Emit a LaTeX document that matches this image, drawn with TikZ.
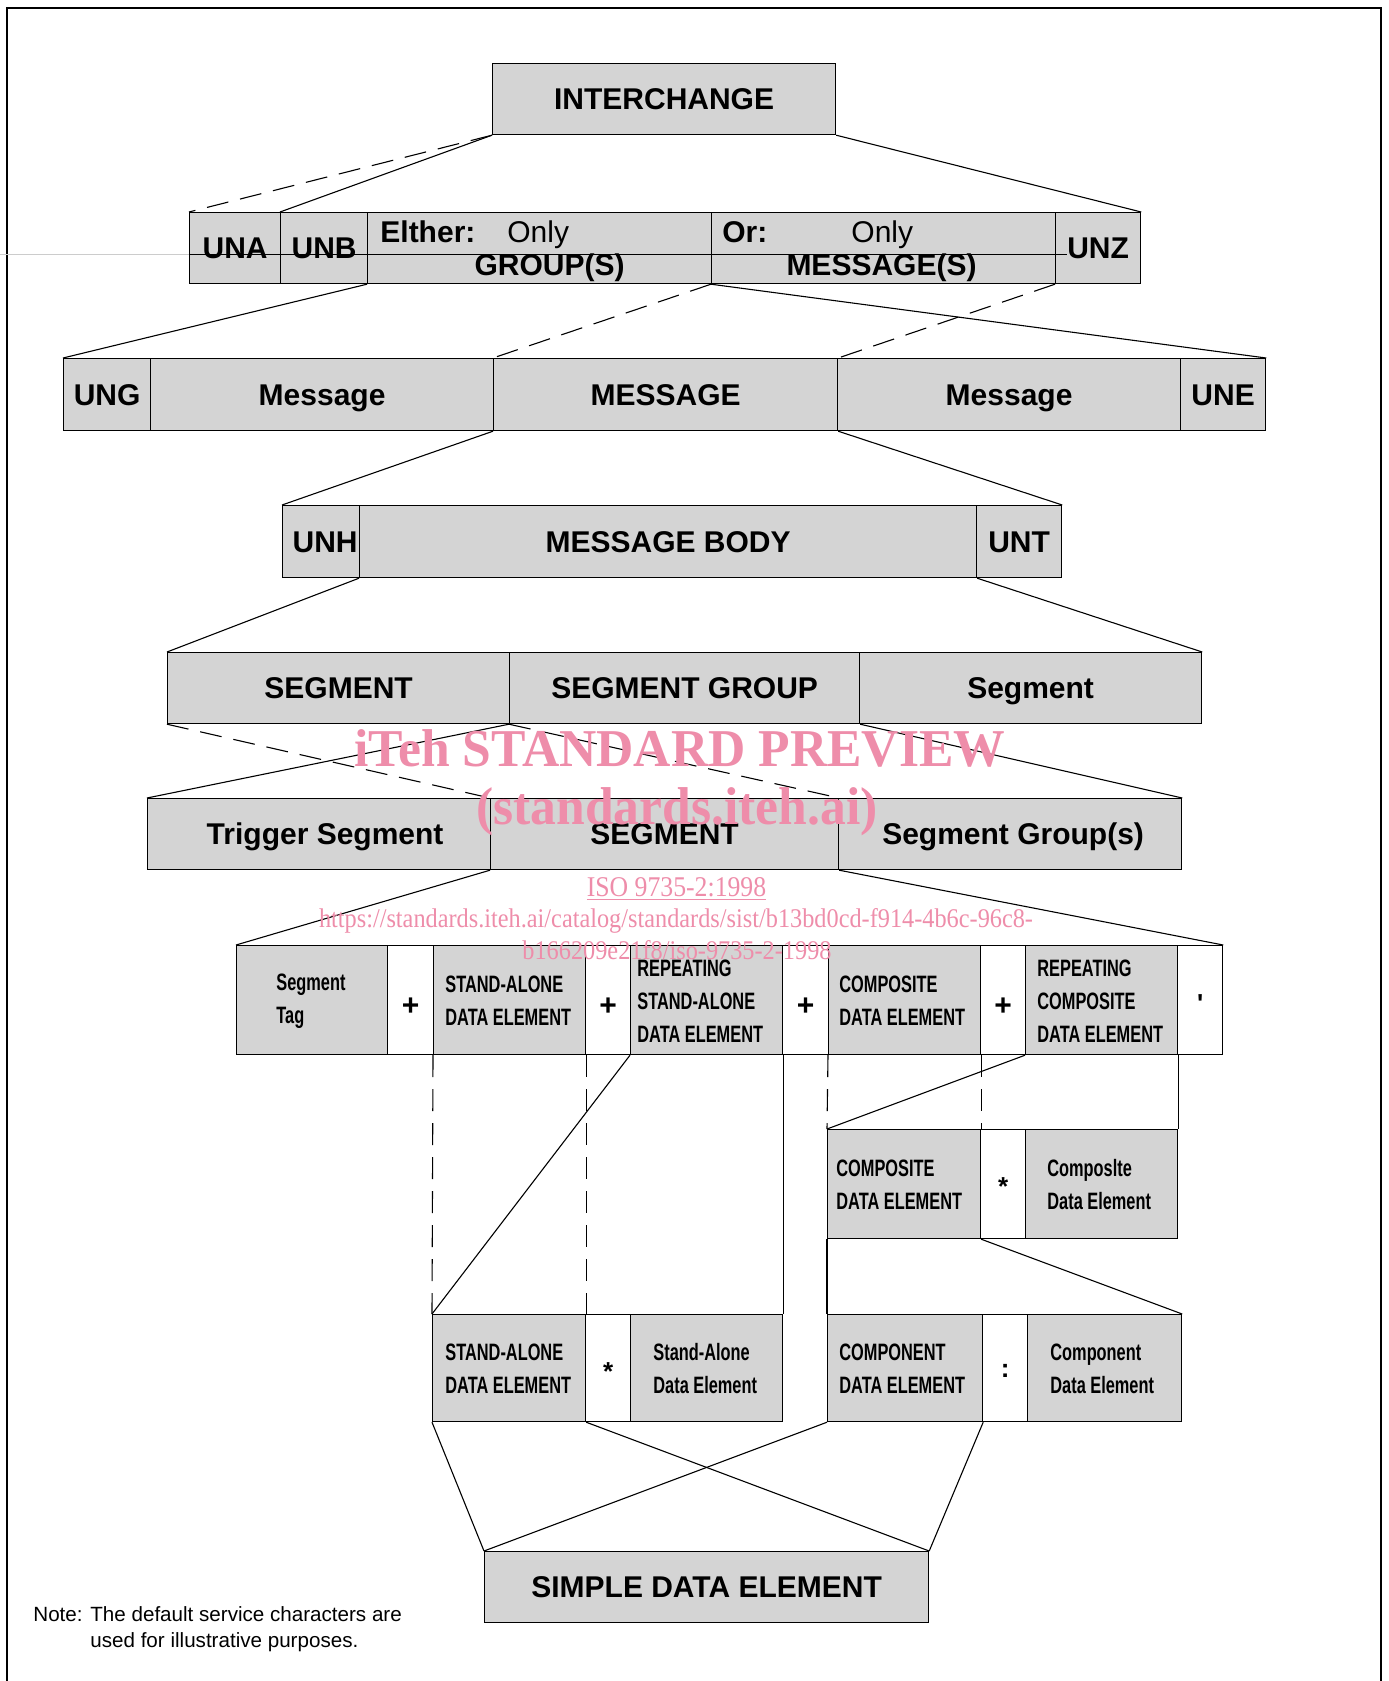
\documentclass[tikz,border=0pt]{standalone}
\usepackage{fontspec}
\setmainfont{Liberation Sans}
\newfontfamily\narrowfam[FakeStretch=0.69]{Liberation Sans}
\newfontfamily\wmserif[FakeStretch=0.97]{Liberation Serif}
\newfontfamily\wmserifn[FakeStretch=0.9]{Liberation Serif}
\newfontfamily\rawsans[Ligatures=TeXOff]{Liberation Sans}
\definecolor{boxgray}{RGB}{212,212,212}
\definecolor{wmpink}{RGB}{238,141,170}
\newcommand\fBig{\fontsize{15}{18}\selectfont\bfseries}
\newcommand\fReg{\fontsize{15}{18}\selectfont}
\newcommand\fNar{\narrowfam\fontsize{11.85}{16.5}\selectfont\bfseries}
\newcommand\fNote{\fontsize{10.3}{13}\selectfont}
\newcommand\fSym{\fontsize{13}{15}\selectfont\bfseries}
\newcommand\boxat[6]{\node[#1, minimum width={(#5-#3)*0.5pt}, minimum height={(#6-#4)*0.5pt}] (#2) at (#3,#4)}
\tikzset{
  basebox/.style={draw=black, line width=0.6pt, inner sep=0pt, anchor=north west},
  gbox/.style={basebox, fill=boxgray, font=\fBig, text height=10.75pt, text depth=0pt},
  wbox/.style={basebox, fill=white},
  nbox/.style={basebox, fill=boxgray},
  ntext/.style={inner sep=0pt, anchor=west, font=\fNar, align=left},
  conn/.style={line width=0.55pt},
  dconn/.style={line width=0.55pt, dash pattern=on 11pt off 6pt},
  lbl/.style={inner sep=0pt},
  wm/.style={inner sep=0pt, text=wmpink}
}
\begin{document}
\begin{tikzpicture}[x=0.5pt,y=-0.5pt]
\useasboundingbox (0,0) rectangle (1388,1681);
% frame
\coordinate (f1) at (7,1681); \coordinate (f2) at (7,8);
\coordinate (f3) at (1381,8); \coordinate (f4) at (1381,1681);
\draw[line width=1pt] (f1) -- (f2) -- (f3) -- (f4);

% row 1
\boxat{gbox}{ich}{492}{63}{835}{134} {INTERCHANGE};
% row 2
\boxat{gbox}{una}{189}{212}{280}{283} {UNA};
\boxat{gbox}{unb}{280}{212}{367}{283} {UNB};
\boxat{gbox}{eith}{367}{212}{711}{283} {};
\boxat{gbox}{orb}{711}{212}{1055}{283} {};
\boxat{gbox}{unz}{1055}{212}{1140}{283} {UNZ};
% row 3
\boxat{gbox}{ung}{63}{358}{150}{430} {UNG};
\boxat{gbox}{msga}{150}{358}{493}{430} {Message};
\boxat{gbox}{msgc}{493}{358}{837}{430} {MESSAGE};
\boxat{gbox}{msgb}{837}{358}{1180}{430} {Message};
\boxat{gbox}{une}{1180}{358}{1265}{430} {UNE};
% row 4
\boxat{gbox}{unh}{282}{505}{359}{577} {\hspace*{4pt}UNH};
\boxat{gbox}{mbody}{359}{505}{976}{577} {MESSAGE BODY};
\boxat{gbox}{unt}{976}{505}{1061}{577} {UNT};
% row 5
\boxat{gbox}{seg}{167}{652}{509}{723} {SEGMENT};
\boxat{gbox}{sgrp}{509}{652}{859}{723} {SEGMENT GROUP};
\boxat{gbox}{segb}{859}{652}{1201}{723} {Segment};
% row 6
\boxat{gbox}{trig}{147}{798}{490}{869} {\hspace*{6pt}Trigger Segment};
\boxat{gbox}{segc}{490}{798}{838}{869} {SEGMENT};
\boxat{gbox}{sgrps}{838}{798}{1181}{869} {\hspace*{3pt}Segment Group(s)};
% row 7
\boxat{nbox}{tag}{236}{945}{387}{1054} {};
\boxat{wbox}{pa}{387}{945}{433}{1054} {\fBig\raisebox{-7.7pt}[0pt][0pt]{+}};
\boxat{nbox}{sa}{433}{945}{585}{1054} {};
\boxat{wbox}{pb}{585}{945}{630}{1054} {\fBig\raisebox{-7.7pt}[0pt][0pt]{+}};
\boxat{nbox}{rsa}{630}{945}{782}{1054} {};
\boxat{wbox}{pc}{782}{945}{828}{1054} {\fBig\raisebox{-7.7pt}[0pt][0pt]{+}};
\boxat{nbox}{cde}{828}{945}{980}{1054} {};
\boxat{wbox}{pd}{980}{945}{1025}{1054} {\fBig\raisebox{-7.7pt}[0pt][0pt]{+}};
\boxat{nbox}{rcde}{1025}{945}{1177}{1054} {};
\boxat{wbox}{ap}{1177}{945}{1222}{1054} {\rawsans\fSym\raisebox{-6.3pt}[0pt][0pt]{'}};
% row 7b
\boxat{nbox}{cdeb}{827}{1129}{980}{1238} {};
\boxat{wbox}{sta}{980}{1129}{1025}{1238} {\fSym\raisebox{-5.7pt}[0pt][0pt]{*}};
\boxat{nbox}{cdec}{1025}{1129}{1177}{1238} {};
% row 8
\boxat{nbox}{sab}{432}{1314}{585}{1421} {};
\boxat{wbox}{stb}{585}{1314}{630}{1421} {\fSym\raisebox{-6pt}[0pt][0pt]{*}};
\boxat{nbox}{sac}{630}{1314}{782}{1421} {};
\boxat{nbox}{comp}{827}{1314}{982}{1421} {};
\boxat{wbox}{col}{982}{1314}{1027}{1421} {\fSym\raisebox{-4.9pt}[0pt][0pt]{:}};
\boxat{nbox}{compb}{1027}{1314}{1181}{1421} {};
% row 9
\boxat{gbox}{simple}{484}{1551}{928}{1622} {SIMPLE DATA ELEMENT};

% texts of the narrow boxes
\node[ntext] (tagT) at (276,1001) {Segment\\Tag};
\node[ntext] (saT) at (445,1001) {STAND-ALONE\\DATA ELEMENT};
\node[ntext] (rsaT) at (637,1001) {REPEATING\\STAND-ALONE\\DATA ELEMENT};
\node[ntext] (cdeT) at (839,1001) {COMPOSITE\\DATA ELEMENT};
\node[ntext] (rcdeT) at (1037,1001) {REPEATING\\COMPOSITE\\DATA ELEMENT};
\node[ntext] (cdebT) at (836,1185) {COMPOSITE\\DATA ELEMENT};
\node[ntext] (cdecT) at (1047,1185) {Composlte\\Data Element};
\node[ntext] (sabT) at (445,1369) {STAND-ALONE\\DATA ELEMENT};
\node[ntext] (sacT) at (653,1369) {Stand-Alone\\Data Element};
\node[ntext] (compT) at (839,1369) {COMPONENT\\DATA ELEMENT};
\node[ntext] (compbT) at (1050,1369) {Component\\Data Element};

% connectors
\draw[dconn] (ich.south west) -- (una.north west);
\draw[conn] (ich.south west) -- (unb.north west);
\draw[conn] (ich.south east) -- (unz.north east);
\draw[conn] (eith.south west) -- (ung.north west);
\draw[dconn] (orb.south west) -- (msgc.north west);
\draw[conn] (orb.south west) -- (une.north east);
\draw[dconn] (unz.south west) -- (msgc.north east);
\draw[conn] (msgc.south west) -- (unh.north west);
\draw[conn] (msgc.south east) -- (unt.north east);
\draw[conn] (mbody.south west) -- (seg.north west);
\draw[conn] (mbody.south east) -- (segb.north east);
\draw[dconn] (seg.south west) -- (segc.north west);
\draw[conn] (sgrp.south west) -- (trig.north west);
\draw[dconn] (sgrp.south west) -- (segc.north east);
\draw[conn] (sgrp.south east) -- (sgrps.north east);
\draw[conn] (segc.south west) -- (tag.north west);
\draw[conn] (segc.south east) -- (ap.north east);
\draw[dconn] (sa.south west) -- (sab.north west);
\draw[dconn] (sa.south east) -- (sab.north east);
\draw[conn] (rsa.south west) -- (sab.north west);
\draw[conn] (rsa.south east) -- (sac.north east);
\draw[dconn] (cde.south west) -- (cdeb.north west);
\draw[dconn] (cde.south east) -- (cdeb.north east);
\draw[conn] (rcde.south west) -- (cdeb.north west);
\draw[conn] (rcde.south east) -- (cdec.north east);
\draw[conn] (cdeb.south west) -- (comp.north west);
\draw[conn] (cdeb.south east) -- (compb.north east);
\draw[conn] (sab.south west) -- (simple.north west);
\draw[conn] (sab.south east) -- (simple.north east);
\draw[conn] (comp.south west) -- (simple.north west);
\draw[conn] (comp.south east) -- (simple.north east);

% texts inside the either / or boxes
\node[lbl, anchor=base west, font=\fBig] (eit) at (380,242) {Elther:};
\node[lbl, anchor=base west, font=\fReg] (eon) at (507,242) {Only};
\node[lbl, anchor=base, font=\fBig] (egr) at (549.5,275) {GROUP(S)};
\node[lbl, anchor=base west, font=\fBig] (oor) at (722,242) {Or:};
\node[lbl, anchor=base west, font=\fReg] (oon) at (851,242) {Only};
\node[lbl, anchor=base, font=\fBig] (oms) at (881.5,275) {MESSAGE(S)};

% stray horizontal line through row 2
\coordinate (ar0) at (0,254); \coordinate (ar1) at (189,254); \coordinate (ar2) at (1067,254);
\draw[gray!40, line width=0.5pt] (ar0) -- (ar1);
\draw[line width=0.5pt] (ar1) -- (ar2);

% note
\node[lbl, anchor=base west, font=\fNote] (note1) at (33,1621) {Note:};
\node[lbl, anchor=base west, font=\fNote] (note2) at (90,1621) {The default service characters are};
\node[lbl, anchor=base west, font=\fNote] (note3) at (90,1647) {used for illustrative purposes.};

% watermark
\node[wm, anchor=base west, font=\wmserif\bfseries\fontsize{26.6}{30}\selectfont] (wm1) at (354,766) {iTeh STANDARD PREVIEW};
\node[wm, anchor=base, font=\wmserif\bfseries\fontsize{26.6}{30}\selectfont] (wm2) at (677,824) {(standards.iteh.ai)};
\node[wm, anchor=base, font=\wmserifn\fontsize{14.3}{16}\selectfont] (wm3) at (676.5,896) {\underline{ISO 9735-2:1998}};
\node[wm, anchor=base, font=\wmserifn\fontsize{13.5}{16}\selectfont] (wm4) at (676,927) {https://standards.iteh.ai/catalog/standards/sist/b13bd0cd-f914-4b6c-96c8-};
\node[wm, anchor=base, font=\wmserifn\fontsize{13.5}{16}\selectfont] (wm5) at (677,959) {b166209e21f8/iso-9735-2-1998};
\end{tikzpicture}
\end{document}
